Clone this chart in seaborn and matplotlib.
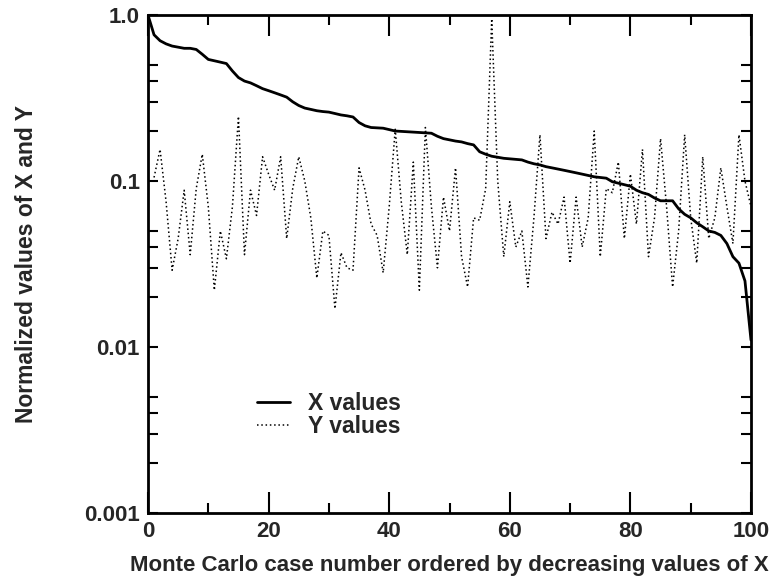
import numpy as np
import pandas as pd
import matplotlib
matplotlib.use("Agg")
import matplotlib.pyplot as plt
import seaborn as sns
from matplotlib.ticker import FixedLocator, LogLocator, NullFormatter, FixedFormatter

# ---- data ----
x_cases = list(range(0, 101))
x_values = [1.0, 0.76, 0.70, 0.67, 0.65, 0.64, 0.63, 0.63, 0.62, 0.58,
            0.54, 0.53, 0.52, 0.51, 0.46, 0.42, 0.40, 0.39, 0.375, 0.36,
            0.35, 0.34, 0.33, 0.32, 0.30, 0.285, 0.275, 0.27, 0.265, 0.262,
            0.26, 0.255, 0.25, 0.247, 0.243, 0.225, 0.215, 0.21, 0.209, 0.208,
            0.204, 0.200, 0.199, 0.198, 0.197, 0.196, 0.195, 0.194, 0.186, 0.18,
            0.177, 0.174, 0.172, 0.168, 0.165, 0.15, 0.145, 0.141, 0.139, 0.137,
            0.136, 0.135, 0.134, 0.13, 0.127, 0.125, 0.122, 0.12, 0.118, 0.116,
            0.114, 0.112, 0.11, 0.108, 0.106, 0.105, 0.104, 0.099, 0.097, 0.095,
            0.093, 0.088, 0.085, 0.083, 0.079, 0.076, 0.076, 0.076, 0.068, 0.063,
            0.060, 0.056, 0.053, 0.050, 0.049, 0.047, 0.042, 0.035, 0.032, 0.025,
            0.011]

y_cases = list(range(1, 101))
y_values = [0.105, 0.155, 0.075, 0.029, 0.045, 0.088, 0.036, 0.09, 0.145, 0.07,
            0.022, 0.05, 0.034, 0.07, 0.245, 0.036, 0.088, 0.062, 0.14, 0.11,
            0.088, 0.14, 0.045, 0.09, 0.14, 0.10, 0.06, 0.026, 0.05, 0.047,
            0.017, 0.037, 0.03, 0.029, 0.12, 0.088, 0.055, 0.047, 0.028, 0.07,
            0.205, 0.075, 0.036, 0.13, 0.022, 0.21, 0.07, 0.03, 0.08, 0.05,
            0.12, 0.035, 0.023, 0.06, 0.058, 0.09, 0.95, 0.10, 0.035, 0.075,
            0.04, 0.05, 0.023, 0.06, 0.19, 0.045, 0.065, 0.055, 0.08, 0.032,
            0.08, 0.04, 0.06, 0.20, 0.035, 0.09, 0.085, 0.13, 0.045, 0.11,
            0.055, 0.155, 0.035, 0.06, 0.18, 0.07, 0.023, 0.05, 0.19, 0.06,
            0.032, 0.14, 0.045, 0.06, 0.12, 0.07, 0.042, 0.19, 0.10, 0.07]

x_major_ticks = [0, 20, 40, 60, 80, 100]
x_minor_ticks = [10, 30, 50, 70, 90]
y_major_ticks = [0.001, 0.01, 0.1, 1.0]
y_tick_labels = ["0.001", "0.01", "0.1", "1.0"]

series_labels = ["X values", "Y values"]
x_label = "Monte Carlo case number ordered by decreasing values of X"
y_label = "Normalized values of X and Y"

# ---- plot ----
sns.set_style("ticks")
plt.rcParams["font.family"] = ["Liberation Sans", "DejaVu Sans"]
plt.rcParams["font.weight"] = "bold"
plt.rcParams["axes.labelweight"] = "bold"

fig = plt.figure(figsize=(7.76, 5.82), dpi=100)
ax = fig.add_axes([148 / 776, 1 - 513 / 582, 603 / 776, 498 / 582])

df_x = pd.DataFrame({"case": x_cases, "value": x_values})
df_y = pd.DataFrame({"case": y_cases, "value": y_values})

sns.lineplot(data=df_x, x="case", y="value", ax=ax, color="black",
             linewidth=2.0, label=series_labels[0], sort=False)
sns.lineplot(data=df_y, x="case", y="value", ax=ax, color="black",
             linewidth=1.1, linestyle=(0, (1, 1.8)), label=series_labels[1], sort=False)

ax.set_yscale("log")
ax.set_xlim(0, 100)
ax.set_ylim(0.001, 1.0)

ax.xaxis.set_major_locator(FixedLocator(x_major_ticks))
ax.xaxis.set_minor_locator(FixedLocator(x_minor_ticks))
ax.set_xticklabels([str(t) for t in x_major_ticks])
ax.yaxis.set_major_locator(FixedLocator(y_major_ticks))
ax.yaxis.set_major_formatter(FixedFormatter(y_tick_labels))
ax.yaxis.set_minor_locator(LogLocator(base=10, subs=[2, 3, 4, 5], numticks=20))
ax.yaxis.set_minor_formatter(NullFormatter())

ax.tick_params(which="both", direction="in", top=True, right=True,
               width=1.5, color="black", labelsize=16, pad=6)
ax.xaxis.set_tick_params(which="major", length=15)
ax.xaxis.set_tick_params(which="minor", length=7)
ax.yaxis.set_tick_params(which="major", length=7)
ax.yaxis.set_tick_params(which="minor", length=7)

for lab in ax.get_xticklabels() + ax.get_yticklabels():
    lab.set_fontweight("bold")

for sp in ax.spines.values():
    sp.set_linewidth(2.0)
    sp.set_color("black")

ax.set_xlabel(x_label, fontsize=16, fontweight="bold", labelpad=9)
ax.set_ylabel(y_label, fontsize=16.5, fontweight="bold", labelpad=33)

leg = ax.legend(loc="upper left", bbox_to_anchor=(0.181, 0.243), frameon=False,
                fontsize=16.5, handlelength=1.45, handletextpad=0.75,
                labelspacing=0.02, borderpad=0, borderaxespad=0)
for t in leg.get_texts():
    t.set_fontweight("bold")

fig.savefig("out.png", dpi=100)
